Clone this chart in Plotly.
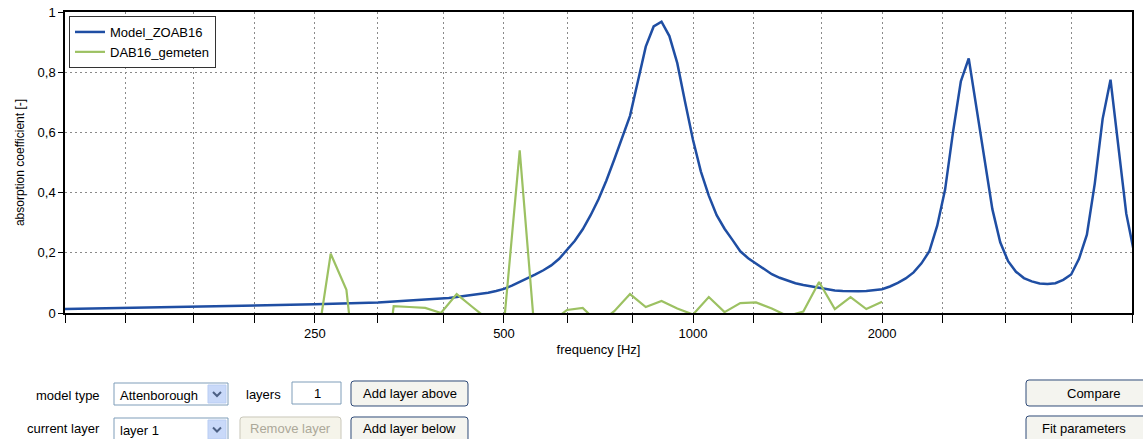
import plotly.graph_objects as go

# ---------------- data ----------------
blue_name = "Model_ZOAB16"
green_name = "DAB16_gemeten"

blue_freq = [100, 125, 160, 200, 250, 315,
             396.9, 408.5, 420.4, 432.7, 445.4, 458.5, 471.9, 485.8,
             500.0, 514.7, 529.7, 545.3, 561.2, 577.7, 594.6, 612.1,
             630.0, 648.4, 667.4, 687.0, 707.1, 727.9, 749.2, 771.1,
             793.7, 817.0, 840.9, 865.6, 890.9, 917.0, 943.9, 971.5,
             1000.0, 1029.3, 1059.5, 1090.5, 1122.5, 1155.4, 1189.2, 1224.1,
             1259.9, 1296.8, 1334.8, 1373.9, 1414.2, 1455.6, 1498.3, 1542.2,
             1587.4, 1633.9, 1681.8, 1731.1, 1781.8, 1834.0, 1887.7, 1943.0,
             2000.0, 2058.6, 2118.9, 2181.0, 2244.9, 2310.7, 2378.4, 2448.1,
             2519.8, 2593.6, 2669.6, 2747.8, 2828.4, 2911.3, 2996.6, 3084.4,
             3174.8, 3267.8, 3363.6, 3462.1, 3563.6, 3668.0, 3775.5, 3886.1,
             4000.0, 4117.2, 4237.8, 4362.0, 4489.8, 4621.4, 4756.8, 4896.1,
             5039.7]
blue_vals = [0.013, 0.017, 0.021, 0.024, 0.029, 0.035,
             0.047, 0.050, 0.053, 0.056, 0.059, 0.063, 0.067, 0.073,
             0.080, 0.091, 0.103, 0.115, 0.128, 0.142, 0.158, 0.180,
             0.210, 0.240, 0.278, 0.325, 0.378, 0.440, 0.510, 0.580,
             0.655, 0.770, 0.885, 0.952, 0.968, 0.920, 0.830, 0.700,
             0.575, 0.470, 0.390, 0.325, 0.280, 0.243, 0.205, 0.182,
             0.165, 0.146, 0.129, 0.117, 0.107, 0.099, 0.093, 0.088,
             0.083, 0.078, 0.075, 0.073, 0.072, 0.072, 0.073, 0.075,
             0.079, 0.088, 0.100, 0.115, 0.135, 0.165, 0.205, 0.290,
             0.410, 0.600, 0.770, 0.846, 0.680, 0.500, 0.345, 0.235,
             0.172, 0.137, 0.116, 0.105, 0.098, 0.096, 0.099, 0.110,
             0.128, 0.180, 0.260, 0.430, 0.645, 0.775, 0.545, 0.330,
             0.200]

green_freq = [250.0, 264.9, 280.6, 297.3, 315.0, 333.7, 353.6, 374.6,
              396.9, 420.4, 445.4, 471.9, 500.0, 529.7, 561.2, 594.6,
              630.0, 667.4, 707.1, 749.2, 793.7, 840.9, 890.9, 943.9,
              1000.0, 1059.5, 1122.5, 1189.2, 1259.9, 1334.8, 1414.2, 1498.3,
              1587.4, 1681.8, 1781.8, 1887.7, 2000.0]
green_vals = [-0.150, 0.197, 0.077, -0.400, -0.400, 0.023, 0.020, 0.017,
              0.000, 0.063, 0.020, -0.022, -0.036, 0.540, -0.100, -0.030,
              0.010, 0.017, -0.034, 0.006, 0.063, 0.020, 0.040, 0.015,
              -0.005, 0.053, 0.003, 0.033, 0.035, 0.015, -0.010, 0.005,
              0.103, 0.013, 0.053, 0.013, 0.037]

x_tick_vals = [100, 125, 160, 200, 250, 315, 400, 500, 630, 800, 1000,
               1250, 1600, 2000, 2500, 3150, 4000, 5000]
x_tick_text = ["", "", "", "", "250", "", "", "500", "", "", "1000",
               "", "", "2000", "", "", "", ""]
y_tick_vals = [0, 0.2, 0.4, 0.6, 0.8, 1]
y_tick_text = ["0", "0,2", "0,4", "0,6", "0,8", "1"]

x_title = "frequency [Hz]"
y_title = "absorption coefficient [-]"

# ---------------- layout geometry ----------------
W, H = 1143, 439
PL, PR, PT, PB = 65, 1132, 12, 313
FONT = "Liberation Sans, Arial, sans-serif"


def fx(x):
    return (x - PL) / (PR - PL)


def fy(y):
    return (PB - y) / (PB - PT)


fig = go.Figure()
fig.add_trace(go.Scatter(x=blue_freq, y=blue_vals, mode="lines", name=blue_name,
                         line=dict(color="#1f4ea3", width=2.5)))
fig.add_trace(go.Scatter(x=green_freq, y=green_vals, mode="lines", name=green_name,
                         line=dict(color="#9cc162", width=2.2)))

shapes = []
annotations = []


def rrect(x0, y0, x1, y1, r, line, fill, width=1):
    pts = [
        ("M", x0 + r, y0), ("L", x1 - r, y0), ("Q", x1, y0, x1, y0 + r),
        ("L", x1, y1 - r), ("Q", x1, y1, x1 - r, y1), ("L", x0 + r, y1),
        ("Q", x0, y1, x0, y1 - r), ("L", x0, y0 + r), ("Q", x0, y0, x0 + r, y0),
    ]
    parts = []
    for p in pts:
        if p[0] == "Q":
            parts.append("Q %.5f,%.5f %.5f,%.5f" % (fx(p[1]), fy(p[2]), fx(p[3]), fy(p[4])))
        else:
            parts.append("%s %.5f,%.5f" % (p[0], fx(p[1]), fy(p[2])))
    shapes.append(dict(type="path", xref="paper", yref="paper", path=" ".join(parts) + " Z",
                       line=dict(color=line, width=width), fillcolor=fill, layer="above"))


def box(x0, y0, x1, y1, line, fill, width=1):
    shapes.append(dict(type="rect", xref="paper", yref="paper",
                       x0=fx(x0), x1=fx(x1), y0=fy(y1), y1=fy(y0),
                       line=dict(color=line, width=width), fillcolor=fill, layer="above"))


def text(x, y, s, anchor="left", color="#000000", size=13):
    annotations.append(dict(xref="paper", yref="paper", x=fx(x), y=fy(y), text=s,
                            showarrow=False, xanchor=anchor, yanchor="middle",
                            font=dict(family=FONT, size=size, color=color)))


def arrow_btn(x0, y0, x1, y1):
    box(x0, y0, x1, y1, "#b9cdf3", "#c9d9f9")
    cx, cy = (x0 + x1) / 2, (y0 + y1) / 2
    path = "M %.5f,%.5f L %.5f,%.5f L %.5f,%.5f" % (
        fx(cx - 4), fy(cy - 2), fx(cx), fy(cy + 2), fx(cx + 4), fy(cy - 2))
    shapes.append(dict(type="path", xref="paper", yref="paper", path=path,
                       line=dict(color="#4d6185", width=2), layer="above"))


# row 1
text(102, 395, "model type", anchor="right")
box(114, 383, 228, 405, "#7f9db9", "#ffffff")
text(118, 395, "Attenborough")
arrow_btn(208, 385, 226, 403)
text(263, 394, "layers", anchor="center")
box(292, 382, 341, 404, "#7f9db9", "#ffffff")
text(317, 393, "1", anchor="center")
rrect(351, 381, 468, 406, 3, "#2f4a78", "#f4f4ef")
text(409.5, 393.5, "Add layer above", anchor="center")
rrect(1026, 380, 1150, 406, 3, "#2f4a78", "#f4f4ef")
text(1093, 393, "Compare", anchor="center")

# row 2
text(102, 428, "current layer", anchor="right")
box(114, 418, 228, 441, "#7f9db9", "#ffffff")
text(118, 430, "layer 1")
arrow_btn(208, 420, 226, 439)
rrect(240, 417, 341, 442, 3, "#c9c7ba", "#f5f4ea")
text(290.5, 428, "Remove layer", anchor="center", color="#aca899")
rrect(351, 417, 468, 442, 3, "#2f4a78", "#f4f4ef")
text(409.5, 428, "Add layer below", anchor="center")
rrect(1026, 416, 1150, 442, 3, "#2f4a78", "#f4f4ef")
text(1084, 428, "Fit parameters", anchor="center")

fig.update_layout(
    width=W, height=H,
    margin=dict(l=PL, r=W - PR, t=PT, b=H - PB, autoexpand=False),
    paper_bgcolor="#ffffff", plot_bgcolor="#ffffff",
    font=dict(family=FONT, size=13, color="#000000"),
    showlegend=True,
    legend=dict(x=fx(69), y=fy(16), xanchor="left", yanchor="top",
                bgcolor="#ffffff", bordercolor="#333333", borderwidth=1,
                font=dict(family=FONT, size=13, color="#000000"),
                itemwidth=30, tracegroupgap=0),
    shapes=shapes,
    annotations=annotations,
)
fig.update_xaxes(type="log", range=[2, 3.69897], automargin=False,
                 tickvals=x_tick_vals, ticktext=x_tick_text,
                 ticks="outside", ticklen=8, tickwidth=1, tickcolor="#000000",
                 showgrid=True, gridcolor="#8a8a8a", griddash="2px,3px", gridwidth=1,
                 showline=True, linecolor="#000000", linewidth=1.5, mirror=True,
                 zeroline=False,
                 tickfont=dict(family=FONT, size=13, color="#000000"),
                 title=dict(text=x_title, standoff=5,
                            font=dict(family=FONT, size=13, color="#000000")))
fig.update_yaxes(range=[0, 1], automargin=False,
                 tickvals=y_tick_vals, ticktext=y_tick_text,
                 ticks="outside", ticklen=5, tickwidth=1, tickcolor="#000000",
                 showgrid=True, gridcolor="#8a8a8a", griddash="2px,3px", gridwidth=1,
                 showline=True, linecolor="#000000", linewidth=1.5, mirror=True,
                 zeroline=False,
                 tickfont=dict(family=FONT, size=13, color="#000000"),
                 title=dict(text=y_title, standoff=10,
                            font=dict(family=FONT, size=12, color="#000000")))

fig.write_html("out.html",
               config={"displayModeBar": False},
               post_script="document.body.style.margin='0';document.body.style.overflow='hidden';")
